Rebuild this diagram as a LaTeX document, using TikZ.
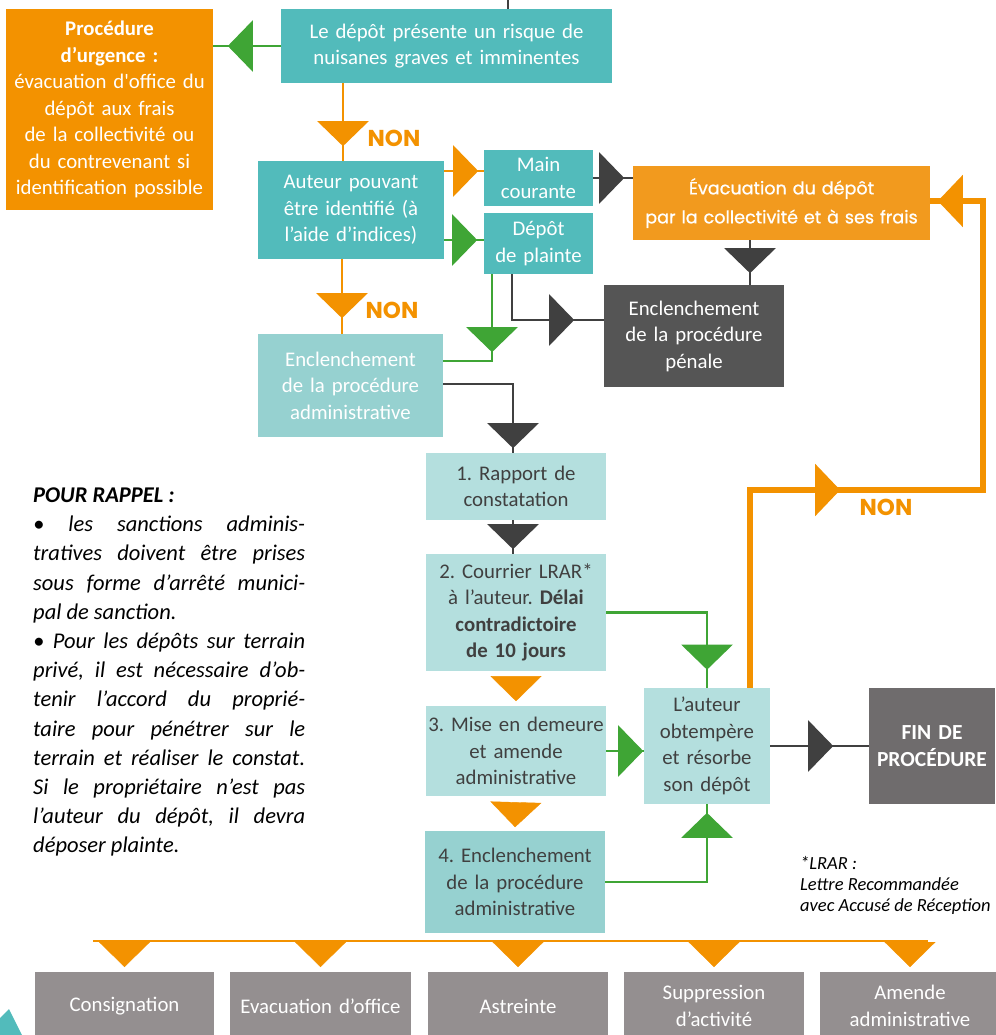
\documentclass[tikz,border=0pt]{standalone}
\usepackage{fontspec}
\setmainfont{Carlito}
\newfontfamily\geo{Poppins}
\newfontfamily\geom[FakeBold=0.8]{Poppins}
\usetikzlibrary{arrows.meta, decorations.markings}
\frenchspacing

\definecolor{teal1}{HTML}{52BBBB}
\definecolor{teal2}{HTML}{96D1D0}
\definecolor{teal3}{HTML}{B4DFDE}
\definecolor{orng}{HTML}{F39200}
\definecolor{orng2}{HTML}{F29A1E}
\definecolor{grn}{HTML}{3FA535}
\definecolor{drk}{HTML}{404040}
\definecolor{penal}{HTML}{555555}
\definecolor{fingray}{HTML}{6F6C6D}
\definecolor{sanc}{HTML}{948F90}
\definecolor{txt}{HTML}{404040}

\newcommand\fs{\fontsize{20.8pt}{26.5pt}\selectfont}

\tikzset{
  box/.style 2 args={rectangle, inner sep=0pt, align=center, text width=#1,
    minimum width=#1, minimum height=#2, font=\fs},
  mid/.style={postaction={decorate, decoration={markings,
    mark=at position #1pt with {\arrow{Triangle[width=51pt,length=25pt]}}}}},
  oline/.style={draw=orng, orng, line width=2.6pt},
  gline/.style={draw=grn, grn, line width=2.6pt},
  dline/.style={draw=drk, drk, line width=2.6pt},
  non/.style={orng, font=\geo\bfseries\fontsize{23pt}{23pt}\selectfont, inner sep=0pt},
}

\begin{document}
\begin{tikzpicture}[x=1pt, y=-1pt]
\useasboundingbox (0,0) rectangle (995,1035);

% upper part
\node[box={331pt}{74pt}, fill=teal1, text=white] (top) at (446.5,46)
  {Le dépôt présente un risque de\\nuisanes graves et imminentes};
\node[box={207pt}{201pt}, fill=orng, text=white] (urg) at (109.5,109.5)
  {\textbf{Procédure}\\\textbf{d’urgence :}\\évacuation d\textquotesingle office du\\dépôt aux frais\\de la collectivité ou\\du contrevenant si\\identification possible};
\node[box={186pt}{98pt}, fill=teal1, text=white] (auteur) at (351,210)
  {Auteur pouvant\\être identifié (à\\l’aide d’indices)};
\node[box={109pt}{56pt}, fill=teal1, text=white] (main) at (538.5,178)
  {Main\\courante};
\node[box={109pt}{61pt}, fill=teal1, text=white] (plainte) at (538.5,243.5)
  {Dépôt\\de plainte};
\node[box={297pt}{74pt}, fill=orng2, text=white, font=\geom\fontsize{17.6pt}{29pt}\selectfont] (evac) at (781.5,203)
  {Évacuation du dépôt\\par la collectivité et à ses frais};
\node[box={180pt}{102pt}, fill=penal, text=white] (penale) at (694,336)
  {Enclenchement\\de la procédure\\pénale};
\node[box={185pt}{103pt}, fill=teal2, text=white] (admin) at (350.5,385.5)
  {Enclenchement\\de la procédure\\administrative};

% steps
\node[box={180pt}{67pt}, fill=teal3, text=txt] (rapport) at (516,486.5)
  {1. Rapport de\\constatation};
\node[box={180pt}{117pt}, fill=teal3, text=txt] (courrier) at (516,612.5)
  {2. Courrier LRAR*\\à l’auteur. \textbf{Délai}\\\textbf{contradictoire}\\\textbf{de 10 jours}};
\node[box={180pt}{90pt}, fill=teal3, text=txt] (mise) at (516,751)
  {3. Mise en demeure\\et amende\\administrative};
\node[box={180pt}{102pt}, fill=teal2, text=txt] (enc4) at (515,882)
  {4. Enclenchement\\de la procédure\\administrative};
\node[box={126pt}{116pt}, fill=teal3, text=txt] (lauteur) at (707,746)
  {L’auteur\\obtempère\\et résorbe\\son dépôt};
\node[box={126pt}{116pt}, fill=fingray, text=white, font=\bfseries\fontsize{21.5pt}{27pt}\selectfont] (fin) at (932,746)
  {FIN DE\\PROCÉDURE};

% sanctions
\node[box={179pt}{68pt}, fill=sanc, text=white] (s1) at (124.5,1006) {Consignation};
\node[box={181pt}{68pt}, fill=sanc, text=white] (s2) at (320.5,1006) {Evacuation d’office};
\node[box={180pt}{68pt}, fill=sanc, text=white] (s3) at (518,1006) {Astreinte};
\node[box={180pt}{68pt}, fill=sanc, text=white] (s4) at (714,1006) {Suppression\\d’activité};
\node[box={180pt}{68pt}, fill=sanc, text=white] (s5) at (910,1006) {Amende\\administrative};

% notes
\node[anchor=north west, inner sep=0pt, text width=272pt, align=justify,
  font=\itshape\fontsize{22.5pt}{29.2pt}\selectfont] (rappel) at (33,487.5)
  {\textbf{POUR RAPPEL :}\\
  • les sanctions adminis-\linebreak
  tratives doivent être prises\linebreak
  sous forme d’arrêté munici-\linebreak
  pal de sanction.\\
  • Pour les dépôts sur terrain\linebreak
  privé, il est nécessaire d’ob-\linebreak
  tenir l’accord du proprié-\linebreak
  taire pour pénétrer sur le\linebreak
  terrain et réaliser le constat.\linebreak
  Si le propriétaire n’est pas\linebreak
  l’auteur du dépôt, il devra\linebreak
  déposer plainte.};
\node[anchor=north west, inner sep=0pt, align=left,
  font=\itshape\fontsize{18.5pt}{21pt}\selectfont] (lrar) at (800,856)
  {*LRAR :\\Lettre Recommandée\\avec Accusé de Réception};

% connectors
\coordinate (in) at (508,0);
\draw[dline] (in) -- (in |- top.north);
\draw[gline, mid=53] (top.west) -- (top.west -| urg.east);
\coordinate (a1) at ([xshift=-8pt]auteur.north);
\draw[oline, mid=63] (top.south -| a1) -- (a1);
\node[non] at (394,138) {NON};
\coordinate (m1) at ([yshift=7pt]main.west);
\draw[oline, mid=34] (auteur.east |- m1) -- (m1);
\coordinate (p1) at ([yshift=3.5pt]plainte.west);
\draw[gline, mid=33] (auteur.east |- p1) -- (p1);
\draw[dline, mid=31] (main.east) -- (main.east -| evac.west);
\coordinate (e1) at ([xshift=-31.5pt]evac.south);
\draw[dline, mid=33] (e1) -- (e1 |- penale.north);
\coordinate (p2) at ([xshift=-26.5pt]plainte.south);
\coordinate (p3) at ([yshift=16pt]penale.west);
\draw[dline, mid=108] (p2) |- (p3);
\coordinate (p4) at ([xshift=-46.5pt]plainte.south);
\coordinate (ad1) at ([yshift=24.5pt]admin.east);
\draw[gline, mid=78] (p4) |- (ad1);
\coordinate (a2) at ([xshift=-9pt]auteur.south);
\draw[oline, mid=59] (a2) -- (a2 |- admin.north);
\node[non] at (392,310) {NON};

\coordinate (r1) at ([xshift=-3pt]rapport.north);
\draw[dline, mid=134] ([yshift=1.5pt]admin.east) -| (r1);
\draw[dline, mid=29] (r1 |- rapport.south) -- (r1 |- courrier.north);
\path[orng, mid=30] (courrier.south) -- (mise.north);
\path[orng, mid=31] (mise.south) -- (enc4.north);
\draw[gline, mid=158] (courrier.east) -| (lauteur.north);
\draw[gline, mid=37] (mise.east) -- (mise.east -| lauteur.west);
\draw[gline, mid=171] (enc4.east) -| (lauteur.south);
\draw[dline, mid=63] (lauteur.east) -- (fin.west);

\coordinate (l1) at ([xshift=43pt]lauteur.north);
\coordinate (turn) at (983,490);
\coordinate (ev1) at ([yshift=2pt]evac.east);
\draw[oline, line width=5.5pt, mid=288, mid=765] (l1) |- (turn) |- (ev1);
\node[non] at (886,507) {NON};

\coordinate (busw) at (93,941);
\coordinate (buse) at (928,941);
\draw[oline] (busw) -- (buse);
\foreach \s in {s1,s2,s3,s4,s5}
  \path[orng, mid=26] (\s.north |- busw) -- (\s.north);

\fill[teal1] (0,1018) -- (9,1009) -- (22,1035) -- (0,1035) -- cycle;
\end{tikzpicture}
\end{document}
